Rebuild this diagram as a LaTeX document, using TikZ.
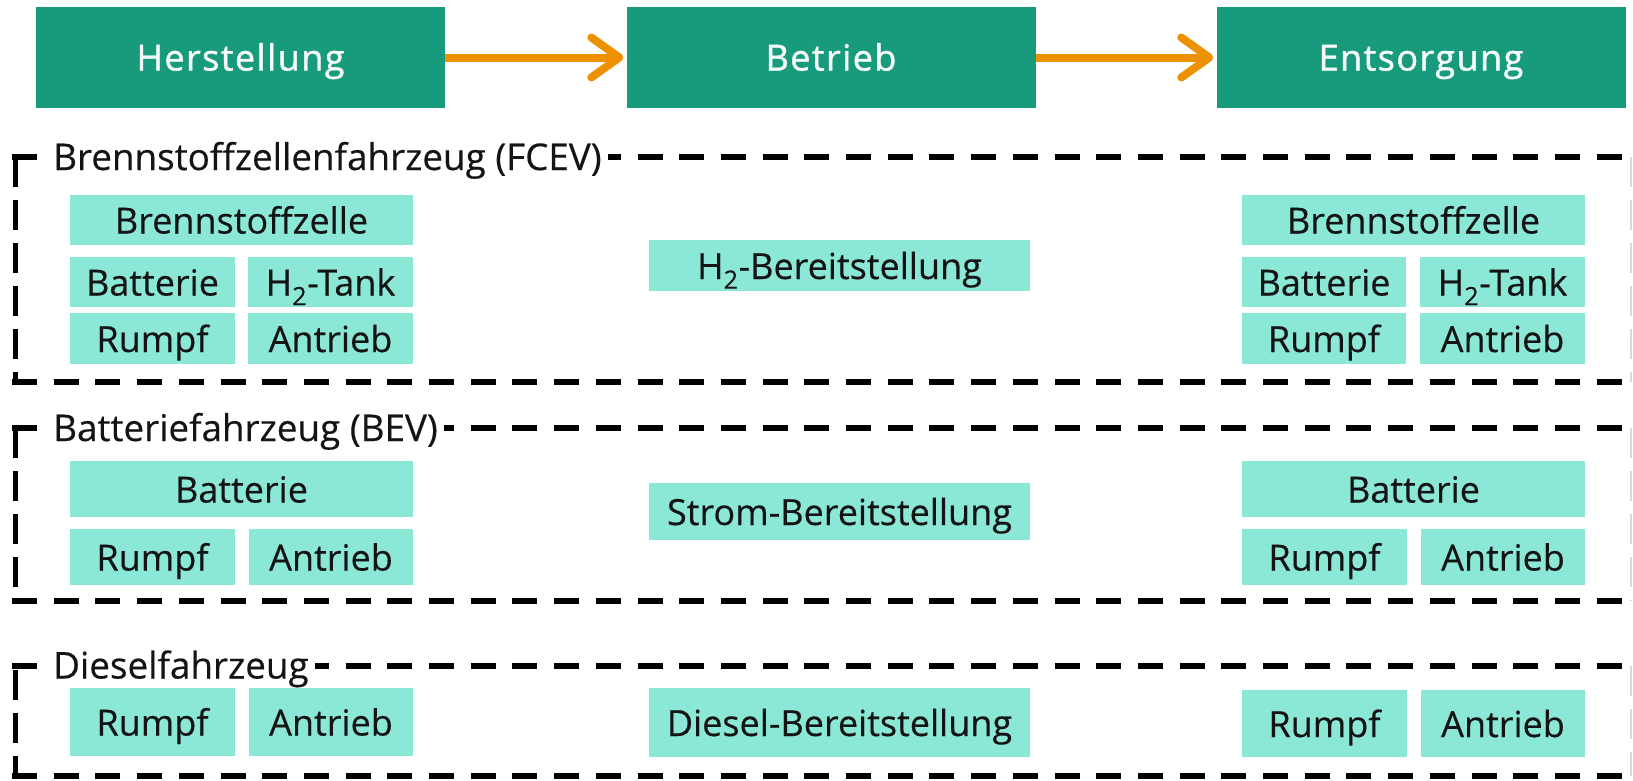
\documentclass[tikz,border=0pt]{standalone}
\usepackage{fontspec}
\setmainfont{Open Sans}
\newfontfamily\topfont[LetterSpace=4,FakeBold=1.2]{Open Sans}
\newfontfamily\compfont[FakeBold=0.35]{Open Sans}
\usetikzlibrary{arrows.meta}
\definecolor{fgreen}{RGB}{24,155,124}
\definecolor{faqua}{RGB}{140,232,214}
\definecolor{forange}{RGB}{238,145,0}
\definecolor{ftext}{RGB}{20,20,20}
\begin{document}
\begin{tikzpicture}[x=1pt,y=-1pt,
  phase/.style={fill=fgreen, text=white!96!fgreen, font=\topfont\fontsize{36}{40}\selectfont,
    minimum width=409pt, minimum height=101pt, inner sep=0pt, text height=26pt, text depth=0pt},
  comp/.style={fill=faqua, text=ftext, font=\compfont\fontsize{36}{40}\selectfont,
    inner sep=0pt, text height=27pt, text depth=0pt},
  grp/.style={fill=white, text=ftext, font=\compfont\fontsize{36.8}{40}\selectfont, anchor=base west,
    inner xsep=6pt, inner ysep=0pt, text height=27pt, text depth=9pt},
  flow/.style={draw=forange, line width=8pt, shorten >=3pt,
    -{Straight Barb[length=28pt,width=40pt,round]}},
  hdash/.style={line width=6pt, dash pattern=on 25pt off 16.7pt},
  vdash/.style={line width=5pt, dash pattern=on 30pt off 13pt},
  rdash/.style={gray!30, line width=2pt, dash pattern=on 30pt off 13pt},
]
\useasboundingbox (0,0) rectangle (1633,780);

% phases
\node[phase] (her) at (240.5,57.5) {Herstellung};
\node[phase] (bet) at (831,57.5) {Betrieb};
\node[phase] (ent) at (1421,57.5) {Entsorgung};
\draw[flow] (her.east) -- (bet.west);
\draw[flow] (bet.east) -- (ent.west);

% ---------- FCEV group
\draw[hdash] (12,157) -- (1633,157);
\draw[hdash] (12,382) -- (1633,382);
\draw[vdash] (15,157) -- (15,382);
\draw[rdash] (1631,157) -- (1631,382);
\node[grp] (lfcev) at (47,170) {Brennstoffzellenfahrzeug (FCEV)};

\node[comp, minimum width=343pt, minimum height=50pt] (fbz1) at (241.5,220) {Brennstoffzelle};
\node[comp, minimum width=165pt, minimum height=50pt] (fba1) at (152.5,282) {Batterie};
\node[comp, minimum width=165pt, minimum height=50pt] (fh21) at (330.5,282) {H\textsubscript{2}-Tank};
\node[comp, minimum width=165pt, minimum height=51pt] (fru1) at (152.5,338.5) {Rumpf};
\node[comp, minimum width=165pt, minimum height=51pt] (fan1) at (330.5,338.5) {Antrieb};

\node[comp, minimum width=381pt, minimum height=51pt] (fbe) at (839.5,265.5) {H\textsubscript{2}-Bereitstellung};

\node[comp, minimum width=343pt, minimum height=50pt] (fbz2) at (1413.5,220) {Brennstoffzelle};
\node[comp, minimum width=164pt, minimum height=50pt] (fba2) at (1324,282) {Batterie};
\node[comp, minimum width=165pt, minimum height=50pt] (fh22) at (1502.5,282) {H\textsubscript{2}-Tank};
\node[comp, minimum width=164pt, minimum height=51pt] (fru2) at (1324,338.5) {Rumpf};
\node[comp, minimum width=165pt, minimum height=51pt] (fan2) at (1502.5,338.5) {Antrieb};

% ---------- BEV group
\draw[hdash] (12,428) -- (1633,428);
\draw[hdash] (12,601) -- (1633,601);
\draw[vdash] (15,428) -- (15,601);
\draw[rdash] (1631,428) -- (1631,601);
\node[grp] (lbev) at (47,441) {Batteriefahrzeug (BEV)};

\node[comp, minimum width=343pt, minimum height=56pt] (bba1) at (241.5,489) {Batterie};
\node[comp, minimum width=165pt, minimum height=56pt] (bru1) at (152.5,557) {Rumpf};
\node[comp, minimum width=164pt, minimum height=56pt] (ban1) at (331,557) {Antrieb};

\node[comp, minimum width=381pt, minimum height=57pt] (bbe) at (839.5,511.5) {Strom-Bereitstellung};

\node[comp, minimum width=343pt, minimum height=56pt] (bba2) at (1413.5,489) {Batterie};
\node[comp, minimum width=165pt, minimum height=56pt] (bru2) at (1324.5,557) {Rumpf};
\node[comp, minimum width=164pt, minimum height=56pt] (ban2) at (1503,557) {Antrieb};

% ---------- Diesel group
\draw[hdash] (12,666) -- (1633,666);
\draw[hdash] (12,776) -- (1633,776);
\draw[vdash] (15,670) -- (15,776);
\draw[rdash] (1631,666) -- (1631,776);
\node[grp] (ldie) at (47,678.5) {Dieselfahrzeug};

\node[comp, minimum width=165pt, minimum height=68pt] (dru1) at (152.5,722) {Rumpf};
\node[comp, minimum width=164pt, minimum height=68pt] (dan1) at (331,722) {Antrieb};

\node[comp, minimum width=381pt, minimum height=69pt] (dbe) at (839.5,722.5) {Diesel-Bereitstellung};

\node[comp, minimum width=165pt, minimum height=67pt] (dru2) at (1324.5,723.5) {Rumpf};
\node[comp, minimum width=164pt, minimum height=67pt] (dan2) at (1503,723.5) {Antrieb};
\end{tikzpicture}
\end{document}
